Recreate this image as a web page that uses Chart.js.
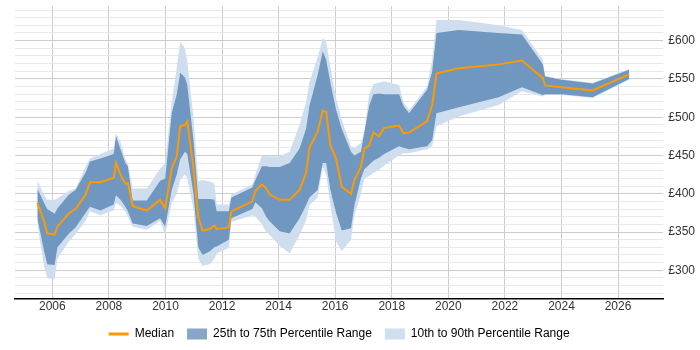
<!DOCTYPE html>
<html>
<head>
<meta charset="utf-8">
<script src="https://cdn.jsdelivr.net/npm/chart.js@4"></script>
<style>
  html, body { margin: 0; padding: 0; background: #fff; }
  #wrap { width: 700px; height: 350px; }
</style>
</head>
<body>
<div id="wrap"><canvas id="salaryChart"></canvas></div>
<script>
const years = [2005.47, 2005.71, 2005.82, 2006.08, 2006.18, 2006.59, 2006.82, 2007.18, 2007.33, 2007.70,
  2008.17, 2008.25, 2008.41, 2008.58, 2008.67, 2008.84, 2009.34, 2009.81, 2009.99, 2010.22,
  2010.40, 2010.52, 2010.69, 2010.77, 2010.99, 2011.16, 2011.31, 2011.57, 2011.73, 2011.81,
  2012.24, 2012.33, 2013.07, 2013.18, 2013.41, 2013.56, 2013.68, 2014.04, 2014.39, 2014.74,
  2014.97, 2015.09, 2015.38, 2015.56, 2015.68, 2015.83, 2016.03, 2016.23, 2016.56, 2016.68,
  2016.91, 2017.03, 2017.20, 2017.35, 2017.55, 2017.73, 2018.26, 2018.41, 2018.61, 2019.25,
  2019.43, 2019.58, 2020.37, 2021.78, 2022.60, 2023.34, 2023.42, 2024.00, 2025.10, 2026.39];

const median = [388, 364, 348, 347, 357, 374.5, 380, 399, 415, 415,
  421, 440, 425, 413, 414, 384, 378, 392, 381, 433,
  449, 488, 490, 494.5, 433, 370, 352, 354, 358.5, 354,
  356, 377, 390, 404, 412, 407, 399, 392, 392, 405,
  427, 460, 481, 508.5, 507, 463, 446, 409, 400, 418,
  435, 459, 463, 480, 475, 486, 489, 479, 480, 495,
  516, 557, 564, 569, 574, 551, 541.5, 539, 535, 556];

const p25 = [368, 325, 308, 307, 330, 348, 356, 375, 383, 378,
  386, 398, 392, 383, 377, 361, 358, 368, 357, 405,
  425, 445, 455, 452, 400, 330, 320, 325, 330, 331,
  340, 368, 380, 389, 381, 370, 364, 351, 348, 368,
  385, 395, 405, 440, 440, 405, 375, 352, 355, 385,
  420, 432, 438, 443, 447, 452, 462, 460, 458, 462,
  470, 505, 513, 526, 539, 529, 530, 530, 526, 550];

const p75 = [407, 388, 380, 374, 381, 399, 405, 428, 442, 446,
  452, 475, 458, 440, 436, 391, 391, 417, 420, 505,
  530, 558, 552, 542, 470, 393, 393, 393, 392, 377,
  377, 395, 408, 418, 436, 436, 435, 435, 440, 459,
  485, 515, 555, 586, 575, 545, 510, 485, 455, 450,
  455, 480, 515, 530, 531, 530, 530, 515, 505, 536,
  560, 610, 614, 610, 608, 569, 553, 549, 544, 562];

const p10 = [360, 305, 290, 288, 315, 338, 347, 365, 377, 372,
  378, 388, 384, 376, 370, 357, 353, 364, 346, 388,
  400, 418, 425, 420, 380, 315, 306, 308, 315, 322,
  329, 363, 372, 370, 360, 350, 346, 332, 322, 346,
  365, 385, 395, 435, 425, 385, 338, 325, 340, 372,
  400, 420, 423, 427, 431, 437, 450, 453, 453, 458,
  462, 488, 501, 516, 534, 527, 529, 529, 525, 549];

const p90 = [418, 398, 392, 392, 394, 404, 407, 436, 446, 452,
  459, 479, 468, 445, 440, 407, 407, 433, 440, 520,
  565, 599, 590, 573, 500, 416, 418, 416, 413, 386,
  386, 399, 412, 425, 450, 449, 449, 449, 455, 490,
  520, 546, 578, 603, 600, 565, 525, 497, 462, 460,
  466, 482, 530, 543, 545, 547, 542, 520, 509, 540,
  575, 627, 627, 620, 614, 575, 554, 550, 545, 563];

const orange = "#ff9900";
const midBand = "#7097c0";
const outerBand = "#cfdeef";

function points(values) {
    return years.map((yr, i) => ({ x: yr, y: values[i] }));
}

Chart.defaults.font.family = "Arial, 'Liberation Sans', sans-serif";
Chart.defaults.font.size = 12;
Chart.defaults.color = "#333";

const ctx = document.getElementById("salaryChart").getContext("2d");

new Chart(ctx, {
    type: "line",
    data: {
        datasets: [
            {
                label: "Median",
                data: points(median),
                borderColor: orange,
                borderWidth: 2,
                pointRadius: 0,
                fill: false,
                tension: 0
            },
            {
                label: "25th to 75th Percentile Range",
                data: points(p75),
                borderWidth: 0,
                borderColor: "rgba(0,0,0,0)",
                backgroundColor: midBand,
                pointRadius: 0,
                fill: "+1",
                tension: 0
            },
            {
                label: "p25",
                data: points(p25),
                borderWidth: 0,
                borderColor: "rgba(0,0,0,0)",
                pointRadius: 0,
                fill: false,
                tension: 0
            },
            {
                label: "10th to 90th Percentile Range",
                data: points(p90),
                borderWidth: 0,
                borderColor: "rgba(0,0,0,0)",
                backgroundColor: outerBand,
                pointRadius: 0,
                fill: "+1",
                tension: 0
            },
            {
                label: "p10",
                data: points(p10),
                borderWidth: 0,
                borderColor: "rgba(0,0,0,0)",
                pointRadius: 0,
                fill: false,
                tension: 0
            }
        ]
    },
    options: {
        responsive: true,
        maintainAspectRatio: false,
        animation: false,
        layout: { padding: { left: 15, right: 0, top: 5, bottom: 0 } },
        plugins: {
            tooltip: { enabled: false },
            legend: {
                position: "bottom",
                fullSize: false,
                labels: {
                    usePointStyle: true,
                    pointStyleWidth: 20,
                    boxHeight: 11,
                    padding: 13,
                    color: "#333",
                    generateLabels: () => [
                        { text: "Median", pointStyle: "line", strokeStyle: orange, fillStyle: orange, lineWidth: 3, datasetIndex: 0 },
                        { text: "25th to 75th Percentile Range", pointStyle: "rect", strokeStyle: "#87a5c6", fillStyle: "#87a5c6", lineWidth: 0, datasetIndex: 1 },
                        { text: "10th to 90th Percentile Range", pointStyle: "rect", strokeStyle: "#d0dfee", fillStyle: "#d0dfee", lineWidth: 0, datasetIndex: 3 }
                    ]
                }
            }
        },
        scales: {
            x: {
                type: "linear",
                min: 2004.68,
                max: 2027.6,
                border: { color: "#000", width: 1.5 },
                grid: { color: "#cccccc", drawTicks: false },
                ticks: {
                    stepSize: 2,
                    includeBounds: false,
                    padding: 1,
                    maxRotation: 0,
                    callback: (v) => String(v)
                }
            },
            y: {
                position: "right",
                min: 263,
                max: 645,
                border: { display: false },
                grid: {
                    drawTicks: false,
                    color: (c) => (c.tick && c.tick.value % 50 === 0 ? "#cccccc" : "#e8e8e8")
                },
                ticks: {
                    stepSize: 10,
                    includeBounds: false,
                    autoSkip: false,
                    padding: 5,
                    font: { size: 12, lineHeight: 0.2 },
                    callback: (v) => (v % 50 === 0 ? "£" + v : "")
                }
            }
        }
    }
});
</script>
</body>
</html>
